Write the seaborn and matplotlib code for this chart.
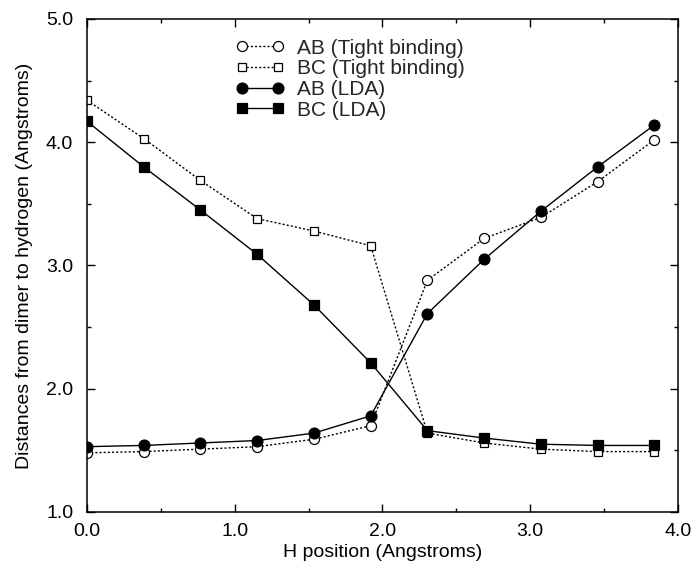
import matplotlib
matplotlib.use("Agg")
import matplotlib.pyplot as plt
import seaborn as sns
import pandas as pd
from matplotlib.ticker import MultipleLocator, FormatStrFormatter

x_pos = [0.0, 0.384, 0.768, 1.152, 1.536, 1.92, 2.304, 2.688, 3.072, 3.456, 3.84]
ab_tb = [1.48, 1.49, 1.51, 1.53, 1.59, 1.70, 2.88, 3.22, 3.39, 3.68, 4.02]
bc_tb = [4.34, 4.03, 3.69, 3.38, 3.28, 3.16, 1.64, 1.56, 1.51, 1.49, 1.49]
ab_lda = [1.53, 1.54, 1.56, 1.58, 1.64, 1.78, 2.61, 3.05, 3.44, 3.80, 4.14]
bc_lda = [4.17, 3.80, 3.45, 3.09, 2.68, 2.21, 1.66, 1.60, 1.55, 1.54, 1.54]
labels = ["AB (Tight binding)", "BC (Tight binding)", "AB (LDA)", "BC (LDA)"]

sns.set_theme(style="ticks")
plt.rcParams['font.family'] = ['Liberation Sans', 'DejaVu Sans']

fig = plt.figure(figsize=(6.95, 5.72), dpi=100)
ax = fig.add_axes([0.1252, 0.1049, 0.8503, 0.8619])

series = [ab_tb, bc_tb, ab_lda, bc_lda]
markers = ["o", "s", "o", "s"]
fills = ["white", "white", "black", "black"]
styles = [(0, (1.5, 1.5)), (0, (1.5, 1.5)), "-", "-"]
sizes = [7.2, 6.2, 7.8, 7.0]
for vals, lab, m, fc, ls, ms in zip(series, labels, markers, fills, styles, sizes):
    df = pd.DataFrame({"x": x_pos, "y": vals})
    sns.lineplot(data=df, x="x", y="y", ax=ax, color="black", linestyle=ls,
                 linewidth=1.0, marker=m, markersize=ms, markerfacecolor=fc,
                 markeredgecolor="black", markeredgewidth=0.9, label=lab)

ax.set_xlim(0, 4)
ax.set_ylim(1, 5)
ax.xaxis.set_major_locator(MultipleLocator(1))
ax.xaxis.set_minor_locator(MultipleLocator(0.5))
ax.yaxis.set_major_locator(MultipleLocator(1))
ax.yaxis.set_minor_locator(MultipleLocator(0.5))
ax.xaxis.set_major_formatter(FormatStrFormatter("%.1f"))
ax.yaxis.set_major_formatter(FormatStrFormatter("%.1f"))
ax.tick_params(which="both", direction="in", top=True, right=True, labelsize=14,
               color="black", labelcolor="black", width=1)
ax.tick_params(which="major", length=6)
ax.tick_params(which="minor", length=3)
ax.tick_params(axis="y", which="both", pad=10)
ax.tick_params(axis="x", which="both", pad=8)
for s in ax.spines.values():
    s.set_visible(True)
    s.set_color("black")
    s.set_linewidth(1.1)
ax.set_xlabel("H position (Angstroms)", fontsize=14, labelpad=3, color="black")
ax.set_ylabel("Distances from dimer to hydrogen (Angstroms)", fontsize=14, labelpad=9,
              color="black")

leg = ax.legend(loc="upper left", bbox_to_anchor=(0.252, 0.96), frameon=False,
                fontsize=15, numpoints=2, handlelength=2.3, labelspacing=0.08,
                handletextpad=0.65, borderaxespad=0, borderpad=0)
fig.savefig("out.png", dpi=100)
